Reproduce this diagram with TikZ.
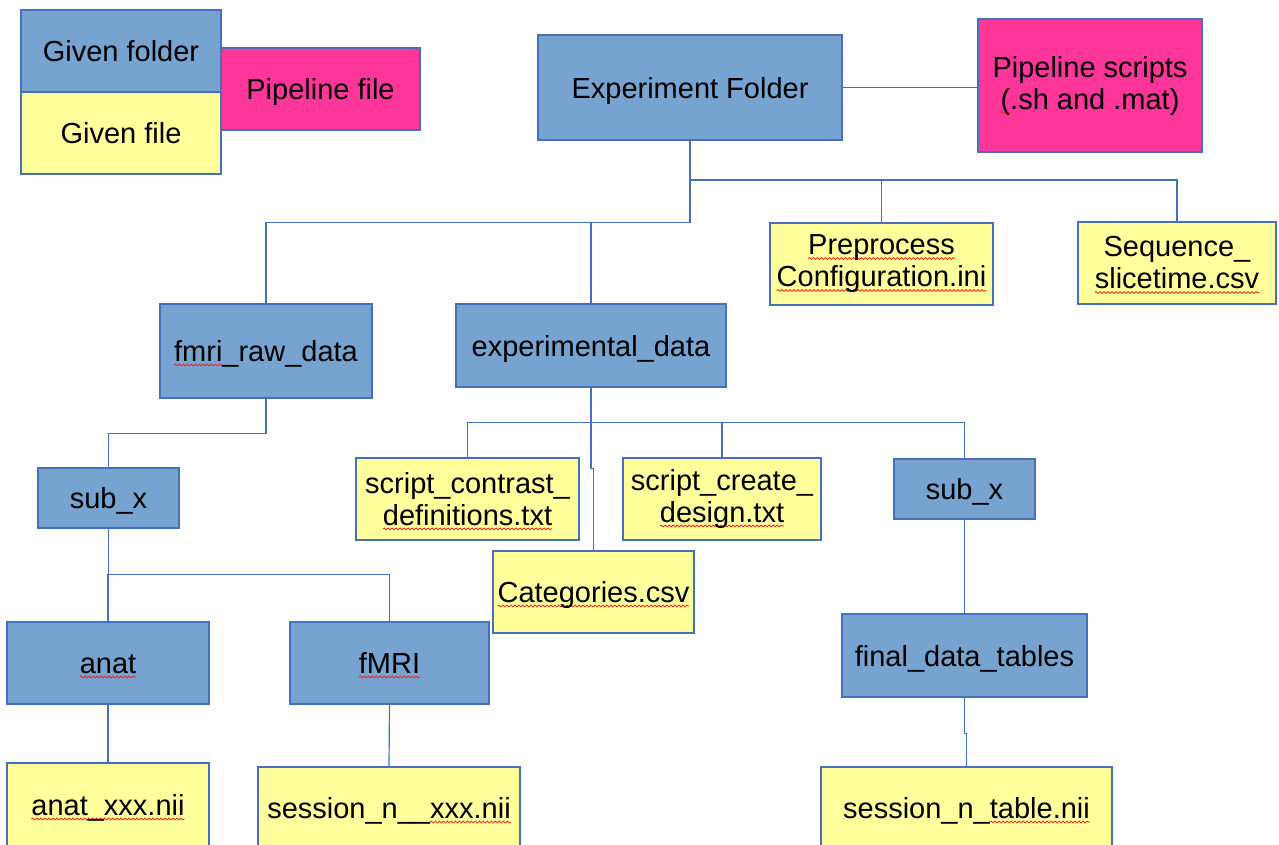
\documentclass[tikz,border=0pt]{standalone}
\usepackage{fontspec}
\setmainfont{Liberation Sans}
\usetikzlibrary{decorations.pathmorphing}

% colours of the folder tree
\definecolor{folderblue}{RGB}{118,163,207}
\definecolor{fileyellow}{RGB}{255,255,156}
\definecolor{scriptpink}{RGB}{255,54,153}
\definecolor{edgeblue}{RGB}{70,112,190}
\definecolor{spellred}{RGB}{235,35,30}

% red wavy underline (spell-check marks) under a piece of text
\newsavebox\swbox
\newcommand\sw[1]{\sbox\swbox{#1}%
  \tikz[x=1pt,y=1pt,baseline=0pt,overlay]
    \draw[spellred, line width=0.8pt, decorate,
      decoration={snake, amplitude=0.9pt, segment length=4pt}]
      (0,-3.5) -- (\the\wd\swbox,-3.5);%
  \usebox\swbox}

\tikzset{
  box/.style={draw=edgeblue, line width=1.1pt, inner sep=0pt, align=center,
    text=black, font=\fontsize{29}{32}\selectfont},
  one/.style={text height=27pt, text depth=6pt},
  folder/.style={box, fill=folderblue},
  file/.style={box, fill=fileyellow},
  pipe/.style={box, fill=scriptpink},
  link/.style={draw=edgeblue, line width=1.2pt},
}

\begin{document}
\begin{tikzpicture}[x=1pt,y=-1pt]
\useasboundingbox (0,0) rectangle (1279,844);
\fill[white] (0,0) rectangle (1279,844);
\clip (0,0) rectangle (1279,844);

% legend
\node[folder, one, minimum width=200, minimum height=82] (gfolder) at (121,51) {Given folder};
\node[file,   one, minimum width=200, minimum height=82] (gfile)   at (121,133) {Given file};
\node[pipe,   one, minimum width=199, minimum height=82] (pfile)   at (320.5,89) {Pipeline file};

% top level
\node[folder, one, minimum width=304, minimum height=105] (ef) at (690,87.5) {Experiment Folder};
\node[pipe,   minimum width=224, minimum height=133] (ps) at (1090,85.5) {Pipeline scripts\\\sw{(}.sh and .mat)};
\node[file,   minimum width=223, minimum height=82]  (pre) at (881.5,264) {\sw{Preprocess}\\\sw{Configuration.ini}};
\node[file,   minimum width=198, minimum height=82]  (seq) at (1177,263) {Sequence\_\\\sw{slicetime.csv}};

% second level
\node[folder, one, minimum width=212, minimum height=94] (frd) at (266,351) {\sw{fmri}\_raw\_data};
\node[folder, one, minimum width=270, minimum height=83] (exd) at (591,345.5) {experimental\_data};

% experimental data contents
\node[file,   minimum width=223, minimum height=82] (sc)   at (467.5,499) {script\_contrast\_\\\sw{definitions.txt}};
\node[file,   minimum width=198, minimum height=82] (scd)  at (722,499)   {script\_create\_\\\sw{design.txt}};
\node[folder, one, minimum width=141, minimum height=60] (subR) at (964.5,489) {sub\_x};
\node[file,   one, minimum width=201, minimum height=82] (cat)  at (593.5,592) {\sw{Categories.csv}};
\node[folder, one, minimum width=245, minimum height=83] (fdt)  at (964.5,655.5) {final\_data\_tables};
\node[file,   one, minimum width=291, minimum height=82] (sesst) at (966.5,808) {session\_n\_\sw{table.nii}};

% raw data contents
\node[folder, one, minimum width=141, minimum height=60] (subL)  at (108.5,498) {sub\_x};
\node[folder, one, minimum width=202, minimum height=82] (anat)  at (108,663)   {\sw{anat}};
\node[folder, one, minimum width=199, minimum height=82] (fmri)  at (389.5,663) {\sw{fMRI}};
\node[file,   one, minimum width=202, minimum height=84] (anatx) at (108,805)   {\sw{anat\_xxx.nii}};
\node[file,   one, minimum width=262, minimum height=82] (sess)  at (389,808)   {session\_n\_\_\sw{xxx.nii}};

% connectors
\draw[link] (ef.east) -- (ef.east -| ps.west);
\draw[link] (ef.south) -- ++(0,39.5) coordinate (j1);
\draw[link] (j1) -| (seq.north);
\draw[link] (pre.north) -- (pre.north |- j1);
\draw[link] (j1) -- ++(0,42.5) coordinate (j0);
\draw[link] (frd.north) |- (j0);
\draw[link] (exd.north) -- (exd.north |- j0);

\draw[link] (exd.south) -- ++(0,35) coordinate (j2);
\draw[link] (sc.north) |- (j2) -| (subR.north);
\draw[link] (scd.north) -- (scd.north |- j2);
\draw[link] (j2) -- ++(0,46) -| (cat.north);
\draw[link] (subR.south) -- (fdt.north);
\draw[link] (fdt.south) -- ++(0,36) -| (sesst.north);

\draw[link] (frd.south) -- ++(0,35) -| (subL.north);
\draw[link] (subL.south) -- ++(0,46) coordinate (j3);
\draw[link] (anat.north) |- (j3) -| (fmri.north);
\draw[link] (anat.south) -- (anatx.north);
\draw[link] (fmri.south) -- (sess.north);
\end{tikzpicture}
\end{document}
